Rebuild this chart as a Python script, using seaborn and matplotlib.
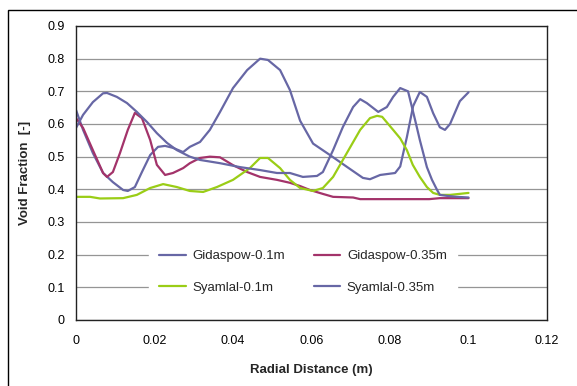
import matplotlib
matplotlib.use("Agg")
import matplotlib.pyplot as plt
from matplotlib.patches import Rectangle
import seaborn as sns
import pandas as pd

# ---- data ----
gid01_x = [0.0, 0.0018, 0.0043, 0.0069, 0.0094, 0.012, 0.0132, 0.015, 0.0168, 0.0189,
           0.0209, 0.0227, 0.0247, 0.0273, 0.029, 0.0316, 0.0341, 0.0367, 0.04, 0.0436,
           0.0469, 0.0489, 0.052, 0.0545, 0.0571, 0.0604, 0.0647, 0.069, 0.0731, 0.0749,
           0.0775, 0.0813, 0.0826, 0.0843, 0.0859, 0.0876, 0.0894, 0.091, 0.0927, 0.094,
           0.0953, 0.0978, 0.1]
gid01_y = [0.643, 0.582, 0.511, 0.45, 0.422, 0.398, 0.395, 0.407, 0.453, 0.505,
           0.53, 0.533, 0.527, 0.514, 0.53, 0.545, 0.582, 0.637, 0.71, 0.765,
           0.80, 0.796, 0.765, 0.704, 0.61, 0.54, 0.505, 0.469, 0.435, 0.431,
           0.444, 0.45, 0.47, 0.56, 0.655, 0.698, 0.683, 0.633, 0.59, 0.582,
           0.60, 0.67, 0.697]

gid035_x = [0.0, 0.0018, 0.0043, 0.0069, 0.0079, 0.0094, 0.0112, 0.0132, 0.015, 0.0168,
            0.0189, 0.0206, 0.0227, 0.0247, 0.0273, 0.029, 0.0316, 0.0341, 0.0367, 0.04,
            0.0436, 0.0469, 0.0512, 0.0545, 0.0571, 0.0596, 0.0629, 0.0655, 0.0706, 0.0724,
            0.09, 0.0927, 0.1]
gid035_y = [0.618, 0.588, 0.52, 0.45, 0.438, 0.453, 0.511, 0.582, 0.634, 0.618,
            0.551, 0.475, 0.444, 0.45, 0.465, 0.48, 0.496, 0.50, 0.498, 0.474,
            0.453, 0.438, 0.429, 0.42, 0.41, 0.398, 0.386, 0.377, 0.375, 0.37,
            0.37, 0.373, 0.373]

sya01_x = [0.0, 0.0036, 0.0061, 0.012, 0.0155, 0.0189, 0.0222, 0.0257, 0.029, 0.0324,
           0.0359, 0.04, 0.0443, 0.0469, 0.0489, 0.052, 0.0545, 0.0571, 0.0604, 0.0629,
           0.0655, 0.069, 0.0724, 0.0749, 0.0767, 0.078, 0.0808, 0.0826, 0.0843, 0.0858,
           0.0876, 0.0894, 0.091, 0.0927, 0.0953, 0.1]
sya01_y = [0.377, 0.377, 0.372, 0.373, 0.383, 0.404, 0.416, 0.407, 0.395, 0.392,
           0.407, 0.429, 0.465, 0.496, 0.496, 0.465, 0.429, 0.404, 0.395, 0.404,
           0.438, 0.511, 0.582, 0.618, 0.625, 0.622, 0.582, 0.556, 0.52, 0.475,
           0.438, 0.407, 0.389, 0.383, 0.383, 0.389]

sya035_x = [0.0, 0.0018, 0.0043, 0.0069, 0.0079, 0.0104, 0.013, 0.0155, 0.0181, 0.0206,
            0.0232, 0.0257, 0.029, 0.0316, 0.0367, 0.0418, 0.0469, 0.0512, 0.0545, 0.0578,
            0.0614, 0.0629, 0.0655, 0.068, 0.0706, 0.0724, 0.0741, 0.077, 0.0792, 0.0808,
            0.0826, 0.0846, 0.0864, 0.0876, 0.0894, 0.0907, 0.092, 0.0927, 0.0945, 0.0971, 0.1]
sya035_y = [0.588, 0.628, 0.667, 0.694, 0.695, 0.683, 0.664, 0.637, 0.606, 0.572,
            0.542, 0.52, 0.50, 0.49, 0.48, 0.468, 0.459, 0.45, 0.45, 0.438,
            0.441, 0.453, 0.52, 0.591, 0.652, 0.676, 0.664, 0.637, 0.652, 0.683,
            0.71, 0.70, 0.612, 0.551, 0.468, 0.429, 0.398, 0.383, 0.38, 0.377, 0.375]

series_names = ["Gidaspow-0.1m", "Gidaspow-0.35m", "Syamlal-0.1m", "Syamlal-0.35m"]
x_ticks = [0, 0.02, 0.04, 0.06, 0.08, 0.1, 0.12]
x_tick_labels = ["0", "0.02", "0.04", "0.06", "0.08", "0.1", "0.12"]
y_ticks = [0, 0.1, 0.2, 0.3, 0.4, 0.5, 0.6, 0.7, 0.8, 0.9]
y_tick_labels = ["0", "0.1", "0.2", "0.3", "0.4", "0.5", "0.6", "0.7", "0.8", "0.9"]

frames = []
for name, xs, ys in zip(series_names,
                        [gid01_x, gid035_x, sya01_x, sya035_x],
                        [gid01_y, gid035_y, sya01_y, sya035_y]):
    frames.append(pd.DataFrame({"x": xs, "y": ys, "series": name}))
df = pd.concat(frames, ignore_index=True)

palette = {"Gidaspow-0.1m": "#6767A5", "Gidaspow-0.35m": "#A3336A",
           "Syamlal-0.1m": "#9ACD16", "Syamlal-0.35m": "#6767A5"}

sns.set_theme(style="white")
plt.rcParams["font.family"] = ["Liberation Sans", "DejaVu Sans"]

fig = plt.figure(figsize=(5.77, 3.86), dpi=100)
ax = fig.add_axes([76 / 577, 1 - 320 / 386, 471 / 577, 294 / 386])

sns.lineplot(data=df, x="x", y="y", hue="series", hue_order=series_names,
             palette=palette, sort=False, estimator=None, linewidth=1.6,
             ax=ax, legend=False)

ax.set_xlim(0, 0.12)
ax.set_ylim(0, 0.9)
ax.set_xticks(x_ticks)
ax.set_xticklabels(x_tick_labels)
ax.set_yticks(y_ticks)
ax.set_yticklabels(y_tick_labels)
ax.tick_params(axis="both", length=0, labelsize=9, colors="black")
ax.tick_params(axis="y", pad=8)
ax.tick_params(axis="x", pad=11)
ax.yaxis.grid(True, color="#959595", linewidth=0.9)
ax.xaxis.grid(False)
ax.set_axisbelow(True)
for s in ax.spines.values():
    s.set_visible(True)
    s.set_color("#222222")
    s.set_linewidth(1.0)

ax.set_xlabel("Radial Distance (m)", fontsize=9.5, fontweight="bold")
ax.set_ylabel("Void Fraction  [-]", fontsize=9.5, fontweight="bold")
ax.xaxis.set_label_coords(0.5, -(364 - 320) / 294)
ax.yaxis.set_label_coords((31 - 76) / 471, 0.5)

# legend (2 columns, row-major order)
handle_map = {}
for name in series_names:
    handle_map[name] = plt.Line2D([], [], color=palette[name], linewidth=1.6)
order = ["Gidaspow-0.1m", "Syamlal-0.1m", "Gidaspow-0.35m", "Syamlal-0.35m"]
leg = ax.legend([handle_map[n] for n in order], order, ncol=2, loc="center",
                bbox_to_anchor=((303 - 76) / 471, (320 - 272) / 294),
                frameon=True, fancybox=False, framealpha=1.0, edgecolor="white",
                facecolor="white", fontsize=9.5, handlelength=2.0, handletextpad=0.5,
                columnspacing=2.2, labelspacing=1.45, borderpad=0.8,
                borderaxespad=0)

fig.patches.append(Rectangle((8 / 577, -0.1), 1.2, 1 - 10 / 386 + 0.1,
                             transform=fig.transFigure, fill=False,
                             edgecolor="black", linewidth=1.0))

fig.savefig("out.png", dpi=100, facecolor="white")
